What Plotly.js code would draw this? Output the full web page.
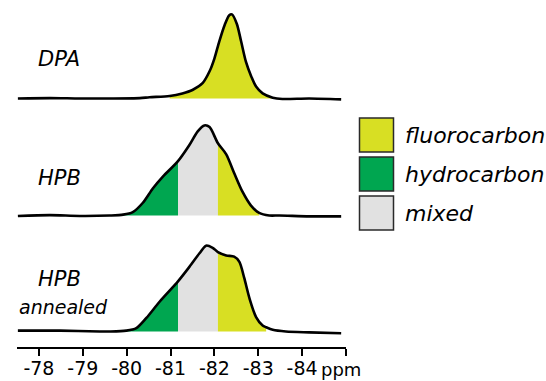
<!DOCTYPE html>
<html>
<head>
<meta charset="utf-8">
<script src="https://cdn.plot.ly/plotly-3.0.1.min.js"></script>
<style>
  html, body { margin: 0; padding: 0; background: #fff; }
  #chart { width: 546px; height: 381px; }
</style>
</head>
<body>
<div id="chart"></div>
<script>
// ---------- DATA ----------
const tickValues = [-78, -79, -80, -81, -82, -83, -84, -85];
const tickLabels = ['-78', '-79', '-80', '-81', '-82', '-83', '-84', ''];
const unitLabel = 'ppm';

const spectrumNames = ['DPA', 'HPB', 'HPB\nannealed'];

const DPA_ppm = [-77.52,-78.25,-78.93,-79.61,-80.30,-80.52,-80.98,-81.27,-81.50,-81.73,-81.89,-82.00,-82.11,-82.23,-82.34,-82.40,-82.51,-82.61,-82.72,-82.84,-82.95,-83.10,-83.33,-83.55,-84.16,-84.89];
const DPA_int = [0.00,0.005,0.00,0.00,0.005,0.015,0.03,0.06,0.10,0.18,0.32,0.47,0.67,0.86,0.98,0.99,0.88,0.67,0.43,0.26,0.14,0.06,0.01,-0.005,0.00,-0.01];

const HPB_ppm = [-77.52,-78.25,-78.93,-79.61,-79.92,-80.14,-80.37,-80.60,-80.83,-81.17,-81.43,-81.62,-81.77,-81.89,-82.08,-82.27,-82.45,-82.64,-82.83,-83.02,-83.25,-83.48,-84.16,-84.89];
const HPB_int = [-0.005,0.005,-0.005,0.00,0.01,0.04,0.15,0.32,0.46,0.64,0.83,0.99,1.06,1.04,0.85,0.72,0.50,0.28,0.12,0.03,0.00,0.00,-0.01,-0.01];

const ANN_ppm = [-77.52,-78.48,-79.39,-79.61,-79.99,-80.22,-80.45,-80.75,-81.17,-81.43,-81.66,-81.81,-81.96,-82.08,-82.27,-82.45,-82.57,-82.68,-82.80,-82.95,-83.10,-83.18,-83.33,-83.63,-84.16,-84.89];
const ANN_int = [0.01,0.01,0.00,0.00,0.01,0.04,0.16,0.35,0.59,0.76,0.92,1.01,0.985,0.935,0.895,0.88,0.82,0.63,0.39,0.17,0.07,0.05,0.02,0.00,-0.01,-0.02];

// regions: [category, from ppm, to ppm]
const DPA_regions = [['fluorocarbon', -80.98, -83.33]];
const HPB_regions = [['hydrocarbon', -79.92, -81.17], ['mixed', -81.17, -82.08], ['fluorocarbon', -82.08, -83.02]];
const ANN_regions = [['hydrocarbon', -79.99, -81.17], ['mixed', -81.17, -82.08], ['fluorocarbon', -82.08, -83.18]];

const categories = ['fluorocarbon', 'hydrocarbon', 'mixed'];
const categoryColors = {fluorocarbon: '#d8df23', hydrocarbon: '#00a650', mixed: '#e1e1e1'};

// ---------- LAYOUT HELPERS ----------
const W = 546, H = 381;
const px = x => x / W;
const py = y => 1 - y / H;
const PX_PER_UNIT = 85;
const baselines = [98.5, 215.5, 331.5];  // pixel rows of each spectrum's baseline
const below = 6, above = 95;

const spectra = [
  {ppm: DPA_ppm, val: DPA_int, regions: DPA_regions},
  {ppm: HPB_ppm, val: HPB_int, regions: HPB_regions},
  {ppm: ANN_ppm, val: ANN_int, regions: ANN_regions}
];

const FONT = 'DejaVu Sans, Verdana, sans-serif';
const traces = [];
const layout = {
  width: W, height: H,
  margin: {l: 0, r: 0, t: 0, b: 0},
  paper_bgcolor: '#fff', plot_bgcolor: 'rgba(0,0,0,0)',
  showlegend: false,
  xaxis: {
    domain: [px(17), px(346)],
    range: [-77.5, -85],
    anchor: 'free', position: py(348),
    showline: true, linecolor: '#000', linewidth: 2,
    ticks: 'outside', ticklen: 7, tickwidth: 2, tickcolor: '#000',
    tickvals: tickValues, ticktext: tickLabels,
    ticklabelstandoff: -4,
    tickfont: {family: FONT, size: 19, color: '#000'},
    showgrid: false, zeroline: false, fixedrange: true
  },
  shapes: [],
  annotations: []
};

spectra.forEach((s, i) => {
  const ax = i === 0 ? 'y' : 'y' + (i + 1);
  const axKey = i === 0 ? 'yaxis' : 'yaxis' + (i + 1);
  const base = baselines[i];
  layout[axKey] = {
    domain: [py(base + below), py(base - above)],
    range: [-below / PX_PER_UNIT, above / PX_PER_UNIT],
    visible: false, fixedrange: true, anchor: 'x'
  };
  // coloured fills
  s.regions.forEach(r => {
    const [cat, a, b] = r;
    const xs = [], ys = [];
    s.ppm.forEach((p, k) => {
      if (p <= a + 1e-6 && p >= b - 1e-6) { xs.push(p); ys.push(s.val[k]); }
    });
    traces.push({
      type: 'scatter', mode: 'lines', x: xs, y: ys, xaxis: 'x', yaxis: ax,
      line: {width: 0, shape: 'spline', smoothing: 0.8, color: categoryColors[cat]},
      fill: 'tozeroy', fillcolor: categoryColors[cat], hoverinfo: 'skip'
    });
  });
  // outline
  traces.push({
    type: 'scatter', mode: 'lines', x: s.ppm, y: s.val, xaxis: 'x', yaxis: ax,
    line: {width: 2.6, color: '#000', shape: 'spline', smoothing: 0.8},
    hoverinfo: 'skip'
  });
});

// spectrum labels
const labelPos = [[36, 59.4, 21], [36, 177.7, 21], [36, 279.4, 21]];
spectrumNames.forEach((n, i) => {
  const parts = n.split('\n');
  layout.annotations.push({
    xref: 'paper', yref: 'paper', x: px(labelPos[i][0]), y: py(labelPos[i][1]),
    xanchor: 'left', yanchor: 'middle', showarrow: false,
    text: '<i>' + parts[0] + '</i>',
    font: {family: FONT, size: labelPos[i][2], color: '#000'}
  });
  if (parts[1]) {
    layout.annotations.push({
      xref: 'paper', yref: 'paper', x: px(17), y: py(307.4),
      xanchor: 'left', yanchor: 'middle', showarrow: false,
      text: '<i>' + parts[1] + '</i>',
      font: {family: FONT, size: 19, color: '#000'}
    });
  }
});

// unit label
layout.annotations.push({
  xref: 'paper', yref: 'paper', x: px(341), y: py(369.5),
  xanchor: 'center', yanchor: 'middle', showarrow: false,
  text: unitLabel, font: {family: FONT, size: 18, color: '#000'}
});

// legend (custom swatches)
const legendTop = [118, 157, 196];
categories.forEach((c, i) => {
  layout.shapes.push({
    type: 'rect', xref: 'paper', yref: 'paper',
    x0: px(359.5), x1: px(393.5), y0: py(legendTop[i] + 34), y1: py(legendTop[i]),
    fillcolor: categoryColors[c], line: {color: '#2a2a2a', width: 1.5}
  });
  layout.annotations.push({
    xref: 'paper', yref: 'paper', x: px(403), y: py(legendTop[i] + 17.5),
    xanchor: 'left', yanchor: 'middle', showarrow: false,
    text: '<i>' + c + '</i>',
    font: {family: FONT, size: 22, color: '#000'}
  });
});

Plotly.newPlot('chart', traces, layout, {staticPlot: true, displayModeBar: false});
</script>
</body>
</html>
